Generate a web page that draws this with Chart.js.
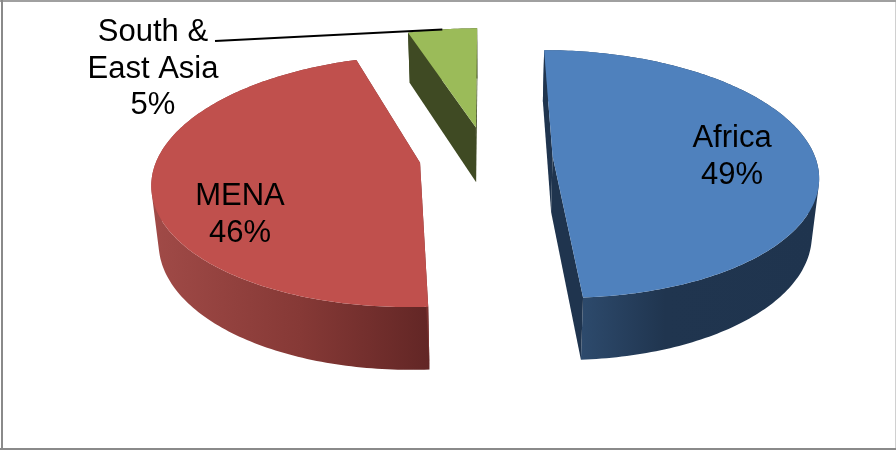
<!DOCTYPE html>
<html>
<head>
<meta charset="utf-8">
<title>Regional shares</title>
<script src="https://cdn.jsdelivr.net/npm/chart.js@4/dist/chart.umd.min.js"></script>
<style>
    html, body { margin: 0; padding: 0; background: #fff; }
    canvas { display: block; }
</style>
</head>
<body>
<canvas id="shareChart" width="896" height="450"></canvas>
<script>
const categories = ['Africa', 'MENA', 'South & East Asia'];
const shares = [49, 46, 5];
const labelLines = [['Africa'], ['MENA'], ['South &', 'East Asia']];

const topColors = ['#4f81bd', '#c0504d', '#9bbb59'];
const wallStops = [
    [[582, '#2d4a6c'], [665, '#20354f'], [818, '#1f344e']],
    [[155, '#a04a47'], [300, '#863936'], [430, '#622625']],
    [[405, '#3f4a23'], [480, '#3f4a23']]
];
const cutColors = ['#1f344e', '#7a3230', '#3f4a23'];

// where each label block sits: centre x and first baseline
const labelAnchors = [[732, 147], [240, 205], [153, 41]];
const leaderStart = [215, 41];

// tilted plane with a little perspective, the floor of the pie sits further away
const view = { cx: 486, cy: 157, rx: 262.5, ry: 121.5, tilt: 0.145, floorScale: 0.978, depth: 56 };

function project(u, v, onFloor) {
    const s = 1 / (1 - view.tilt * v);
    const f = onFloor ? view.floorScale : 1;
    return [
        view.cx + view.rx * u * s * f,
        view.cy + view.ry * v * s * f + (onFloor ? view.depth * s : 0)
    ];
}

// plane coordinates of a slice, taken from the arc that Chart.js laid out
function sliceGeometry(arc) {
    const mid = (arc.startAngle + arc.endAngle) / 2;
    const off = arc.options.offset / arc.outerRadius;
    const apex = [Math.cos(mid) * off, Math.sin(mid) * off];
    const rim = [];
    const steps = Math.ceil((arc.endAngle - arc.startAngle) / (Math.PI / 180));
    for (let i = 0; i <= steps; i++) {
        const a = arc.startAngle + (arc.endAngle - arc.startAngle) * i / steps;
        rim.push([apex[0] + Math.cos(a), apex[1] + Math.sin(a)]);
    }
    return { apex, rim, mid };
}

function addPolygon(ctx, points) {
    points.forEach((p, i) => (i ? ctx.lineTo(p[0], p[1]) : ctx.moveTo(p[0], p[1])));
    ctx.closePath();
}

function fillPolygon(ctx, points, fill) {
    ctx.beginPath();
    addPolygon(ctx, points);
    ctx.fillStyle = fill;
    ctx.fill();
}

// outer wall as one path of quads, all wound the same way so the silhouette has no notches
function fillWall(ctx, top, floor, fill) {
    ctx.beginPath();
    for (let i = 0; i < top.length - 1; i++) {
        const quad = [top[i], top[i + 1], floor[i + 1], floor[i]];
        let area = 0;
        quad.forEach((p, j) => {
            const q = quad[(j + 1) % 4];
            area += p[0] * q[1] - q[0] * p[1];
        });
        addPolygon(ctx, area < 0 ? quad.slice().reverse() : quad);
    }
    ctx.fillStyle = fill;
    ctx.fill();
}

const pie3d = {
    id: 'pie3d',
    beforeDatasetsDraw(chart) {
        const ctx = chart.ctx;
        const arcs = chart.getDatasetMeta(0).data;

        ctx.save();
        // back slice first so the nearer ones paint over it
        [2, 1, 0].forEach(index => {
            const g = sliceGeometry(arcs[index]);
            const top = g.rim.map(p => project(p[0], p[1], false));
            const floor = g.rim.map(p => project(p[0], p[1], true));

            const stops = wallStops[index];
            const x0 = stops[0][0];
            const x1 = stops[stops.length - 1][0];
            const grad = ctx.createLinearGradient(x0, 0, x1, 0);
            stops.forEach(stop => grad.addColorStop((stop[0] - x0) / (x1 - x0), stop[1]));
            fillWall(ctx, top, floor, grad);

            const apexTop = project(g.apex[0], g.apex[1], false);
            const apexFloor = project(g.apex[0], g.apex[1], true);
            fillPolygon(ctx, [apexTop, top[0], floor[0], apexFloor], cutColors[index]);
            fillPolygon(ctx, [apexTop, top[top.length - 1], floor[floor.length - 1], apexFloor], cutColors[index]);

            fillPolygon(ctx, [apexTop].concat(top), topColors[index]);
        });
        ctx.restore();
        return false; // the flat arcs are replaced by the drawing above
    },
    afterDraw(chart) {
        const ctx = chart.ctx;
        const arcs = chart.getDatasetMeta(0).data;

        ctx.save();
        // frame round the whole chart, the right side is much fainter
        ctx.fillStyle = '#a0a0a0';
        ctx.fillRect(0, 0, 896, 2);
        ctx.fillStyle = '#8a8a8a';
        ctx.fillRect(1, 0, 2, 450);
        ctx.fillRect(0, 448, 896, 2);
        ctx.fillStyle = '#d0d0d0';
        ctx.fillRect(895, 2, 1, 446);

        // leader from the small slice to its label
        const g = sliceGeometry(arcs[2]);
        const end = project(g.apex[0] + Math.cos(g.mid), g.apex[1] + Math.sin(g.mid), false);
        ctx.beginPath();
        ctx.moveTo(leaderStart[0], leaderStart[1]);
        ctx.lineTo(end[0], end[1]);
        ctx.strokeStyle = '#000';
        ctx.lineWidth = 2;
        ctx.stroke();

        ctx.fillStyle = '#000';
        ctx.font = '31px "Liberation Sans", Arial, sans-serif';
        ctx.textAlign = 'center';
        ctx.textBaseline = 'alphabetic';
        labelLines.forEach((lines, i) => {
            const rows = lines.concat(shares[i] + '%');
            rows.forEach((text, r) => {
                ctx.fillText(text, labelAnchors[i][0], labelAnchors[i][1] + r * 36.5);
            });
        });
        ctx.restore();
    }
};

new Chart(document.getElementById('shareChart'), {
    type: 'pie',
    data: {
        labels: categories,
        datasets: [{
            data: shares,
            backgroundColor: topColors,
            borderWidth: 0,
            offset: 50.8
        }]
    },
    options: {
        responsive: false,
        animation: false,
        radius: 200,
        rotation: 0,
        plugins: {
            legend: { display: false },
            tooltip: { enabled: false }
        }
    },
    plugins: [pie3d]
});
</script>
</body>
</html>
